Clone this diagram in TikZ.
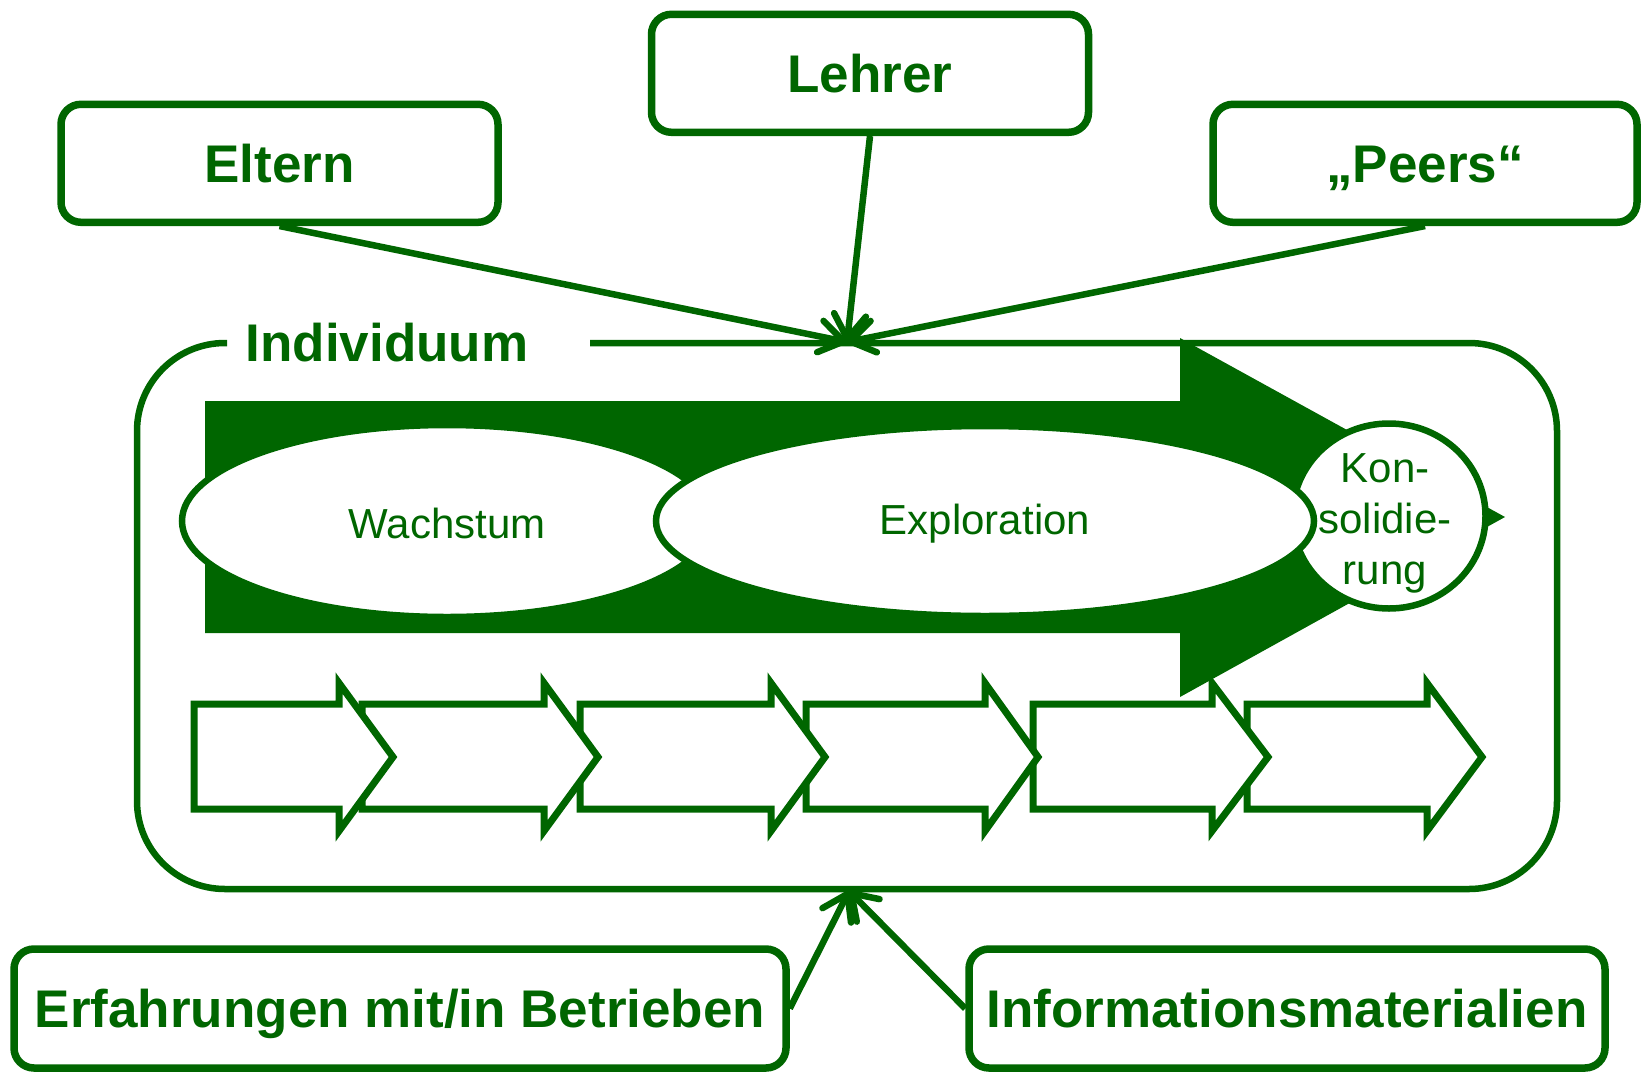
\documentclass[tikz,border=0pt]{standalone}
\usepackage{fontspec}
\setmainfont{Liberation Sans}
\usetikzlibrary{arrows.meta,shapes.geometric}
\definecolor{dg}{HTML}{006600}
\begin{document}
\begin{tikzpicture}[x=1pt,y=-1pt,
  box/.style={draw=dg,line width=7.5pt,rounded corners=20pt,fill=white,text=dg,
    font=\bfseries\fontsize{53}{60}\selectfont,inner sep=0pt,text height=38pt,text depth=0pt},
  title/.style={text=dg,font=\bfseries\fontsize{53}{60}\selectfont,inner sep=0pt},
  ell/.style={ellipse,draw=dg,line width=6.5pt,fill=white,inner sep=0pt},
  txt/.style={text=dg,font=\fontsize{42}{51}\selectfont,inner sep=0pt},
  chev/.style={draw=dg,fill=white,line width=7pt},
  conn/.style={draw=dg,line width=6.5pt,-{Straight Barb[length=24pt,width=32pt,round]}},
  frame/.style={draw=dg,line width=6.5pt,rounded corners=88pt},
]
\useasboundingbox (0,0) rectangle (1641,1071);

% container with gap for the title
\draw[frame] (590,343) -- (1557,343) -- (1557,889) -- (137,889) -- (137,343) -- (227,343);
\node[title] (indiv) at (387,343) {Individuum};

% big arrow
\fill[dg] (205,401) -- (1180,401) -- (1180,338) -- (1505,517) -- (1180,697)
  -- (1180,633) -- (205,633) -- cycle;

% phases
\node[ell,minimum width=193pt,minimum height=185pt] (kon) at (1389,516) {};
\node[ell,minimum width=530pt,minimum height=192pt] (wachstum) at (447,521) {};
\node[txt] (wtext) at (447,523) {Wachstum};
\node[ell,minimum width=658pt,minimum height=190pt] (exploration) at (985,521) {};
\node[txt] (etext) at (985,524) {Exploration};
\node[txt,align=center] (ktext) at (1385,523) {Kon-\\solidie-\\rung};

% chevrons (right to left so that earlier ones lie on top)
\foreach \L/\B/\T [count=\i] in {1247/1427/1482,1033/1212/1268,806/985/1038,580/771/825,362/544/598,194/339/393}{
  \draw[chev] (\L,704) -- (\B,704) -- (\B,683) -- (\T,757) -- (\B,831) -- (\B,809) -- (\L,809) -- cycle;
}

% influence boxes
\node[box,minimum width=437pt,minimum height=118pt] (eltern) at (279.5,163.3) {Eltern};
\node[box,minimum width=437pt,minimum height=118pt] (lehrer) at (870,73.3) {Lehrer};
\node[box,minimum width=424pt,minimum height=118pt] (peers) at (1425,163.3) {„Peers“};
\node[box,minimum width=772pt,minimum height=119pt] (erf) at (400,1008.5) {Erfahrungen mit/in Betrieben};
\node[box,minimum width=636pt,minimum height=119pt] (info) at (1287,1008.5) {Informationsmaterialien};

% connectors
\coordinate (top) at (847,342);
\coordinate (bot) at (849,891);
\draw[conn] (eltern.south) -- (top);
\draw[conn] (lehrer.south) -- (top);
\draw[conn] (peers.south) -- (top);
\draw[conn] (erf.east) -- (bot);
\draw[conn] (info.west) -- (bot);
\end{tikzpicture}
\end{document}
